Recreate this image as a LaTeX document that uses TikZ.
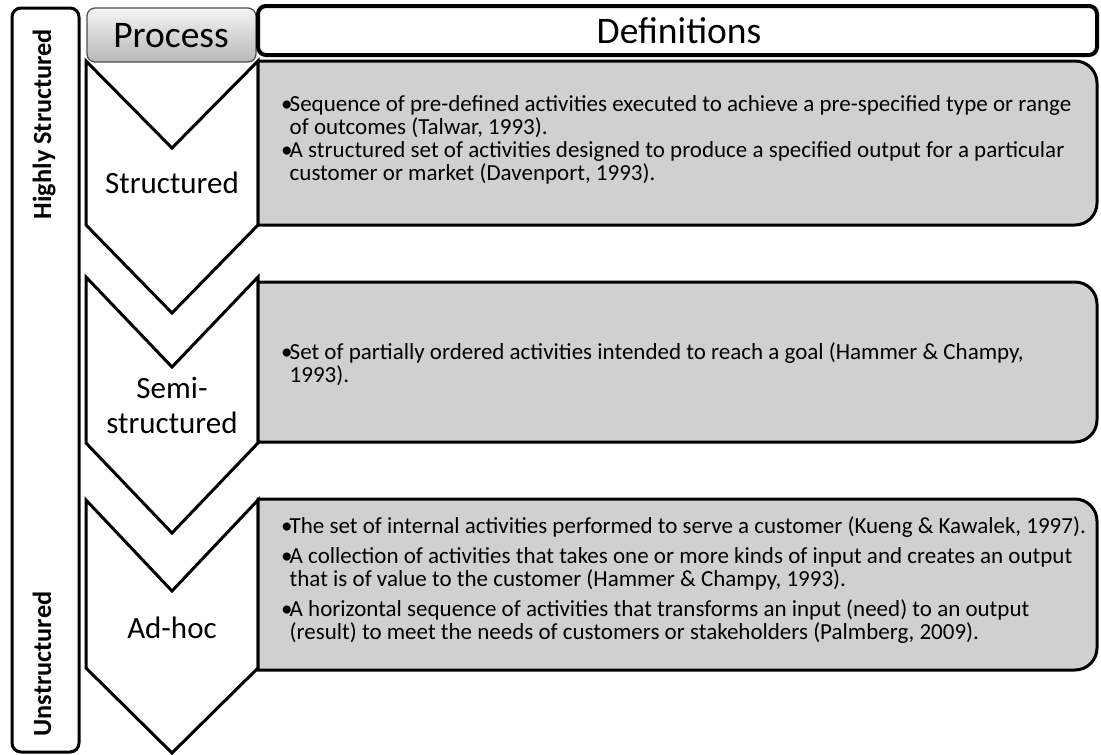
\documentclass[tikz,border=0pt]{standalone}
\usepackage{fontspec}
\setmainfont{Carlito}
\definecolor{boxgray}{RGB}{208,208,208}
\newcommand{\bul}{\makebox[6.5pt][l]{\kern-2pt•}}
\newcommand{\ind}{\hspace*{6.5pt}}
\begin{document}
\begin{tikzpicture}[x=1pt,y=-1pt,
  chev/.style={draw=black, fill=white, line width=3pt, line join=miter},
  gbox/.style={draw=black, fill=boxgray, line width=3pt},
  body/.style={anchor=west, align=left, inner sep=0pt, font=\fontsize{23}{23.2}\selectfont},
  lab/.style={align=center, inner sep=0pt, font=\fontsize{31}{35}\selectfont},
  head/.style={inner sep=0pt, anchor=base, font=\fontsize{37.5}{40}\selectfont},
  side/.style={inner sep=0pt, anchor=base, rotate=90, font=\fontsize{26.3}{30}\selectfont\bfseries}]
\useasboundingbox (0,0) rectangle (1101,755);
\fill[white] (0,0) rectangle (1101,755);

% left scale bar
\draw[line width=3pt, rounded corners=9pt] (12,8) rectangle (79,752);
\node[side] (hs) at (51,124) {Highly Structured};
\node[side] (us) at (51,664) {Unstructured};

% chevrons
\draw[chev] (86,61) -- (172,148) -- (258,61) -- (258,225) -- (172,313) -- (86,225) -- cycle;
\draw[chev] (86,277) -- (172,367) -- (258,277) -- (258,443) -- (172,533) -- (86,443) -- cycle;
\draw[chev] (86,500) -- (172,591) -- (258,500) -- (258,668) -- (172,753) -- (86,668) -- cycle;

% gray definition boxes (rounded on the right)
\newcommand{\grayboxpath}[2]{%
  \draw[gbox] (258,#1) -- (1075,#1) .. controls (1087.1,#1) and (1097,#1+9.9) .. (1097,#1+22)
    -- (1097,#2-22) .. controls (1097,#2-9.9) and (1087.1,#2) .. (1075,#2) -- (258,#2) -- cycle;}
\grayboxpath{61}{225}
\grayboxpath{282}{442}
\grayboxpath{499}{670}

% headers
\draw[draw=black!70, line width=1.2pt, rounded corners=8pt, top color=black!4, bottom color=black!28]
  (87,8) rectangle (256,62);
\draw[line width=4pt, rounded corners=8pt, fill=white] (258,6) rectangle (1097,55);
\node[head] (proc) at (171,47) {Process};
\node[head] (defs) at (679,43) {Definitions};

% chevron labels
\node[lab] (l1) at (172,183) {Structured};
\node[lab] (l2) at (172,405) {Semi-\\structured};
\node[lab] (l3) at (172,628) {Ad-hoc};

% definitions
\node[body] (d1) at (283,140) {\bul Sequence of pre-defined activities executed to achieve a pre-specified type or range\\
\ind of outcomes (Talwar, 1993).\\
\bul A structured set of activities designed to produce a specified output for a particular\\
\ind customer or market (Davenport, 1993).};
\node[body] (d2) at (283,364) {\bul Set of partially ordered activities intended to reach a goal (Hammer \& Champy,\\
\ind 1993).};
\node[body] (d3) at (283,580) {\bul The set of internal activities performed to serve a customer (Kueng \& Kawalek, 1997).\\[7pt]
\bul A collection of activities that takes one or more kinds of input and creates an output\\
\ind that is of value to the customer (Hammer \& Champy, 1993).\\[7pt]
\bul A horizontal sequence of activities that transforms an input (need) to an output\\
\ind (result) to meet the needs of customers or stakeholders (Palmberg, 2009).};
\end{tikzpicture}
\end{document}
